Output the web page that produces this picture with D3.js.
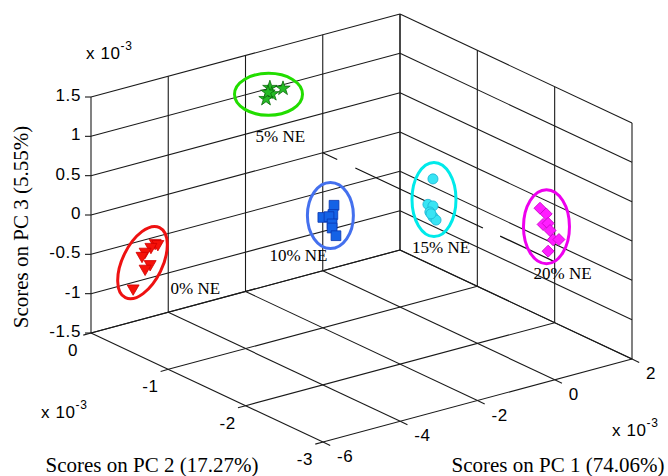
<!DOCTYPE html>
<html>
<head>
<meta charset="utf-8">
<script src="https://cdn.jsdelivr.net/npm/d3@7"></script>
<style>
  body { margin: 0; background: #fff; }
  svg { display: block; }
  .tick { font-family: "Liberation Sans", Arial, sans-serif; font-size: 17px; letter-spacing: 0.6px; fill: #000; }
  .title { font-family: "Liberation Serif", "Times New Roman", serif; font-size: 21px; fill: #000; }
  .note { font-family: "Liberation Serif", "Times New Roman", serif; font-size: 17px; fill: #000; }
</style>
</head>
<body>
<svg id="chart" width="668" height="476"></svg>
<script>
// axis ticks (x 10^-3)
var pc1Ticks = [-6, -4, -2, 0, 2];
var pc2Ticks = [0, -1, -2, -3];
var pc3Ticks = [-1.5, -1, -0.5, 0, 0.5, 1, 1.5];

var groupNames = ["0% NE", "5% NE", "10% NE", "15% NE", "20% NE"];

// scores, x 10^-3
var ne0PC1 = [-5.34, -5.17, -5.55, -5.40, -5.68, -5.67, -5.50, -5.81];
var ne0PC2 = [-0.50, -0.45, -0.55, -0.40, -0.50, -0.60, -0.45, -0.45];
var ne0PC3 = [-0.21, -0.27, -0.21, -0.36, -0.33, -0.39, -0.54, -0.75];

var ne5PC1 = [-2.37, -1.93, -2.42, -2.27, -2.62];
var ne5PC2 = [-0.50, -0.45, -0.55, -0.40, -0.60];
var ne5PC3 = [1.37, 1.28, 1.32, 1.17, 1.39];

var ne10PC1 = [-1.71, -1.64, -2.10, -1.64, -1.76, -1.96, -1.56];
var ne10PC2 = [-1.00, -0.95, -1.05, -0.90, -1.00, -1.10, -0.95];
var ne10PC3 = [0.02, -0.13, -0.06, -0.18, -0.21, -0.19, -0.41];

var ne15PC1 = [-0.15, -0.38, -0.05, -0.23, -0.35, 0.03, 0.00];
var ne15PC2 = [-1.50, -1.55, -1.45, -1.50, -1.60, -1.45, -1.40];
var ne15PC3 = [0.38, 0.11, 0.00, -0.03, -0.03, -0.19, -0.13];

var ne20PC1 = [1.22, 1.48, 1.20, 1.43, 1.68, 1.46, 1.51, 1.53];
var ne20PC2 = [-2.20, -2.15, -2.25, -2.20, -2.10, -2.25, -2.30, -2.15];
var ne20PC3 = [0.15, 0.02, -0.03, -0.07, -0.24, -0.26, -0.24, -0.46];

// dashed reference line PC1 = 0, PC3 = 0
var refLinePC2 = [0, -3];

var svg = d3.select("#chart");

// box projection (orthographic, as the figure view)
var origin = [91, 333];
var eU = [309, -83], eV = [232, 109], eW = [0, -236];

var su = d3.scaleLinear().domain([-6, 2]).range([0, 1]);
var sv = d3.scaleLinear().domain([0, -3]).range([0, 1]);
var sw = d3.scaleLinear().domain([-1.5, 1.5]).range([0, 1]);

function proj(a, b, c) {
    var u = su(a), v = sv(b), w = sw(c);
    return [origin[0] + u * eU[0] + v * eV[0] + w * eW[0],
            origin[1] + u * eU[1] + v * eV[1] + w * eW[1]];
}

var line = d3.line();
var gGrid = svg.append("g").attr("stroke", "#1a1a1a").attr("stroke-width", 1.1).attr("fill", "none");

function seg(p, q) {
    gGrid.append("path").attr("d", line([p, q]));
}

// back wall PC2 = 0
pc1Ticks.forEach(function(t) { seg(proj(t, 0, -1.5), proj(t, 0, 1.5)); });
pc3Ticks.forEach(function(t) { seg(proj(-6, 0, t), proj(2, 0, t)); });
// side wall PC1 = 2
pc2Ticks.forEach(function(t) { seg(proj(2, t, -1.5), proj(2, t, 1.5)); });
pc3Ticks.forEach(function(t) { seg(proj(2, 0, t), proj(2, -3, t)); });
// floor PC3 = -1.5
pc1Ticks.forEach(function(t) { seg(proj(t, 0, -1.5), proj(t, -3, -1.5)); });
pc2Ticks.forEach(function(t) { seg(proj(-6, t, -1.5), proj(2, t, -1.5)); });

// tick marks
pc3Ticks.forEach(function(t) {
    var p = proj(-6, 0, t);
    seg(p, [p[0] - 6, p[1]]);
});
pc2Ticks.forEach(function(t) {
    var p = proj(-6, t, -1.5);
    seg(p, [p[0] - 7.7, p[1] + 2.1]);
});
pc1Ticks.forEach(function(t) {
    var p = proj(t, -3, -1.5);
    seg(p, [p[0] + 7.2, p[1] + 3.4]);
});

// tick labels
var gLab = svg.append("g");
pc3Ticks.forEach(function(t) {
    var p = proj(-6, 0, t);
    gLab.append("text").attr("class", "tick").attr("x", p[0] - 10).attr("y", p[1] + 4)
        .attr("text-anchor", "end").text(String(t));
});
pc2Ticks.forEach(function(t) {
    var p = proj(-6, t, -1.5);
    gLab.append("text").attr("class", "tick").attr("x", p[0] - 18).attr("y", p[1] + 23)
        .attr("text-anchor", "middle").text(String(t));
});
pc1Ticks.forEach(function(t) {
    var p = proj(t, -3, -1.5);
    gLab.append("text").attr("class", "tick").attr("x", p[0] + 14).attr("y", p[1] + 20)
        .attr("text-anchor", "start").text(String(t));
});

function expLabel(x, y) {
    var t = gLab.append("text").attr("class", "tick").attr("x", x).attr("y", y);
    t.append("tspan").text("x 10");
    t.append("tspan").attr("dy", -9).style("font-size", "12px").text("-3");
}
expLabel(86, 59);
expLabel(41, 418);
expLabel(612, 436);

// axis titles
svg.append("text").attr("class", "title").attr("text-anchor", "middle")
    .attr("transform", "translate(28,227) rotate(-90)").text("Scores on PC 3 (5.55%)");
svg.append("text").attr("class", "title").attr("text-anchor", "middle")
    .attr("x", 152).attr("y", 472).text("Scores on PC 2 (17.27%)");
svg.append("text").attr("class", "title").attr("text-anchor", "middle")
    .attr("x", 558).attr("y", 472).text("Scores on PC 1 (74.06%)");

// dashed zero line
svg.append("path")
    .attr("d", line(refLinePC2.map(function(b) { return proj(0, b, 0); })))
    .attr("fill", "none").attr("stroke", "#111").attr("stroke-width", 1.2)
    .attr("stroke-dasharray", "16,20,141,19,60");

// groups
var groups = [
    { pc1: ne0PC1, pc2: ne0PC2, pc3: ne0PC3, sym: d3.symbolTriangle, rot: 180, size: 62,
      fill: "#f5120a", stroke: "#d00000", ring: "#ee1111", rx: 20, ry: 39, ringRot: 26, dx: -3, dy: -3, lx: 28, ly: 31 },
    { pc1: ne5PC1, pc2: ne5PC2, pc3: ne5PC3, sym: d3.symbolStar, rot: 0, size: 64,
      fill: "#26bb26", stroke: "#0a6a0a", ring: "#22dd00", rx: 34, ry: 21, ringRot: 0, dx: -6, dy: 1, lx: -13, ly: 48 },
    { pc1: ne10PC1, pc2: ne10PC2, pc3: ne10PC3, sym: d3.symbolSquare, rot: 0, size: 95,
      fill: "#1462e6", stroke: "#0a36b0", ring: "#4470ee", rx: 23, ry: 33, ringRot: 0, dx: 1, dy: -5, lx: -61, ly: 46 },
    { pc1: ne15PC1, pc2: ne15PC2, pc3: ne15PC3, sym: d3.symbolCircle, rot: 0, size: 80,
      fill: "#38e4f4", stroke: "#19b4d2", ring: "#00eaea", rx: 22, ry: 37, ringRot: 0, dx: 2, dy: 0, lx: -22, ly: 54 },
    { pc1: ne20PC1, pc2: ne20PC2, pc3: ne20PC3, sym: d3.symbolSquare, rot: 45, size: 72,
      fill: "#ff1eff", stroke: "#c800c8", ring: "#ee00ee", rx: 23, ry: 37, ringRot: 0, dx: -3, dy: -3, lx: -13, ly: 52 }
];

groups.forEach(function(g, i) {
    var pts = g.pc1.map(function(a, k) { return proj(a, g.pc2[k], g.pc3[k]); });
    var sym = d3.symbol().type(g.sym).size(g.size);
    svg.append("g").selectAll("path").data(pts).join("path")
        .attr("d", sym)
        .attr("transform", function(p) { return "translate(" + p[0] + "," + p[1] + ") rotate(" + g.rot + ")"; })
        .attr("fill", g.fill).attr("stroke", g.stroke).attr("stroke-width", 0.8);

    var xs = d3.extent(pts, function(p) { return p[0]; });
    var ys = d3.extent(pts, function(p) { return p[1]; });
    var cx = (xs[0] + xs[1]) / 2 + g.dx, cy = (ys[0] + ys[1]) / 2 + g.dy;
    svg.append("ellipse")
        .attr("transform", "translate(" + cx + "," + cy + ") rotate(" + g.ringRot + ")")
        .attr("rx", g.rx).attr("ry", g.ry)
        .attr("fill", "none").attr("stroke", g.ring).attr("stroke-width", 3);
    svg.append("text").attr("class", "note").attr("x", cx + g.lx).attr("y", cy + g.ly).text(groupNames[i]);
});
</script>
</body>
</html>
